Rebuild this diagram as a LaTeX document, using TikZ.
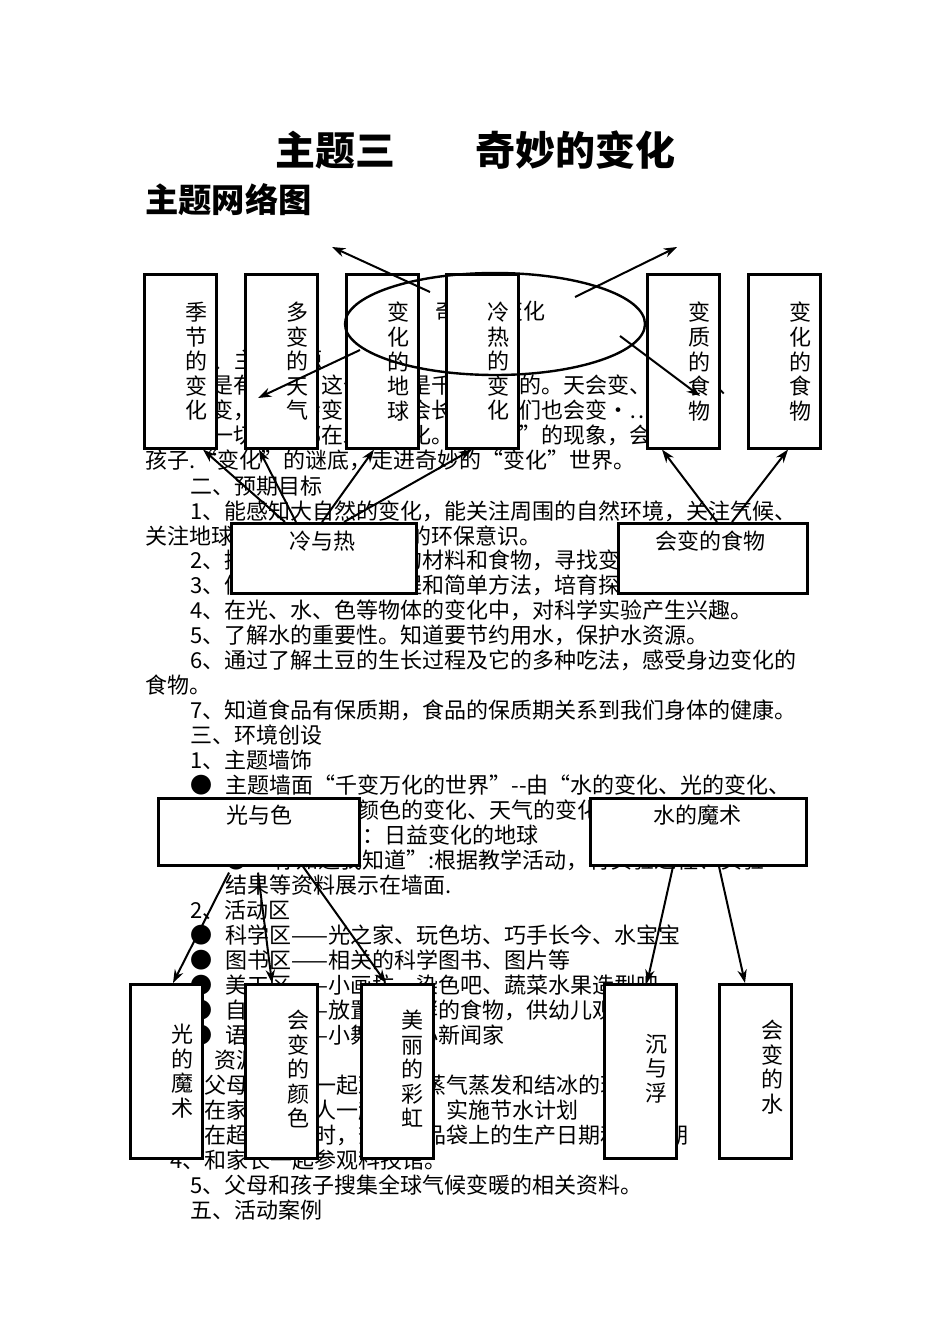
\documentclass[tikz,border=0pt]{standalone}
\usepackage{fontspec}
\setmainfont{Noto Sans CJK SC}
\usetikzlibrary{shapes.geometric,arrows.meta,calc}
\newcommand\fsz{\fontsize{16.5}{18.4}\selectfont}
\begin{document}
\begin{tikzpicture}[x=0.75pt,y=-0.75pt,
  box/.style={draw,line width=1.9pt,fill=white,inner sep=0,anchor=north west},
  vt/.style={align=center,font=\fsz,inner sep=0,anchor=north},
  bg/.style={anchor=west,inner sep=0,font=\fsz},
  lb/.style={inner sep=0,font=\fsz},
  arr/.style={line width=1.5pt,-{Stealth[length=10pt,width=7pt]}}]
\useasboundingbox (0,0) rectangle (950,1344);
\fill[white] (0,0) rectangle (950,1344);
% titles
\node[inner sep=0,font=\fontsize{30}{32}\selectfont\bfseries] (t1) at (475,150) {主题三\hspace{2em}奇妙的变化};
\node[inner sep=0,anchor=west,font=\fontsize{25}{27}\selectfont\bfseries] (t2) at (145,200) {主题网络图};
% background text
\node[bg] (l1) at (190,360) {一、主题来源};
\node[bg] (l2) at (145,385) {自然界是有活力，这个世界是千奇百变的。天会变、地会变、};
\node[bg] (l3) at (145,410) {天气会变，时间会变，孩子会长大，我们也会变·……·};
\node[bg] (l4) at (145,435) {身边的一切事物都在发生变化。“变化”的现象，会吸引};
\node[bg] (l5) at (145,460) {孩子.“变化”的谜底，走进奇妙的“变化”世界。};
\node[bg] (l6) at (190,486) {二、预期目标};
\node[bg] (l7) at (190,511) {1、能感知大自然的变化，能关注周围的自然环境，关注气候、};
\node[bg] (l8) at (145,536) {关注地球的变化，萌发初步的环保意识。};
\node[bg] (l9) at (190,560) {2、提供各种可以变化的材料和食物，寻找变化的秘密。};
\node[bg] (l10) at (190,585) {3、体验科学探究的过程和简单方法，培育探究学习意识。};
\node[bg] (l11) at (190,610) {4、在光、水、色等物体的变化中，对科学实验产生兴趣。};
\node[bg] (l12) at (190,635) {5、了解水的重要性。知道要节约用水，保护水资源。};
\node[bg] (l13) at (190,660) {6、通过了解土豆的生长过程及它的多种吃法，感受身边变化的};
\node[bg] (l14) at (145,685) {食物。};
\node[bg] (l15) at (190,710) {7、知道食品有保质期，食品的保质期关系到我们身体的健康。};
\node[bg] (l16) at (190,735) {三、环境创设};
\node[bg] (l17) at (190,760) {1、主题墙饰};
\node[bg] (l18) at (190,785) {●\hspace{0.6em}主题墙面“千变万化的世界”{-}{-}由“水的变化、光的变化、};
\node[bg] (l19) at (225,810) {物体的变化、颜色的变化、天气的变化”组成。};
\node[bg] (l20) at (225,835) {●\ 小小调查员：日益变化的地球};
\node[bg] (l21) at (225,860) {●\ “你知道我知道”:根据教学活动，将实验过程、实验};
\node[bg] (l22) at (225,885) {结果等资料展示在墙面.};
\node[bg] (l23) at (190,910) {2、活动区};
\node[bg] (l24) at (190,935) {●\hspace{0.6em}科学区——光之家、玩色坊、巧手长今、水宝宝};
\node[bg] (l25) at (190,960) {●\hspace{0.6em}图书区——相关的科学图书、图片等};
\node[bg] (l26) at (190,985) {●\hspace{0.6em}美工区——小画坊、染色吧、蔬菜水果造型吧};
\node[bg] (l27) at (190,1010) {●\hspace{0.6em}自然角——放置会发酵的食物，供幼儿观察};
\node[bg] (l28) at (190,1035) {●\hspace{0.6em}语言区——小舞台、小新闻家};
\node[bg] (l29) at (170,1060) {四、资源利用};
\node[bg] (l30) at (170,1085) {1、父母和幼儿一起观察水蒸气蒸发和结冰的现象.};
\node[bg] (l31) at (170,1110) {2、在家中和家人一起制订、实施节水计划};
\node[bg] (l32) at (170,1135) {3、在超市购物时，查看食品袋上的生产日期和保质期};
\node[bg] (l33) at (170,1160) {4、和家长一起参观科技馆。};
\node[bg] (l34) at (190,1185) {5、父母和孩子搜集全球气候变暖的相关资料。};
\node[bg] (l35) at (190,1210) {五、活动案例};
% ellipse text
\node[lb] (et) at (490,311) {奇妙的变化};
% top boxes
\foreach \n/\x in {b1/143,b2/244,b3/345,b4/445,b5/646,b6/747}
  \node[box,minimum width=54pt,minimum height=130.5pt] (\n) at (\x,273) {};
\node[vt] (v1) at (196,302) {季\\节\\的\\变\\化};
\node[vt] (v2) at (297,302) {多\\变\\的\\天\\气};
\node[vt] (v3) at (398,302) {变\\化\\的\\地\\球};
\node[vt] (v4) at (498,302) {冷\\热\\的\\变\\化};
\node[vt] (v5) at (699,302) {变\\质\\的\\食\\物};
\node[vt] (v6) at (800,302) {变\\化\\的\\食\\物};
% ellipse
\node[draw,ellipse,line width=1.8pt,minimum width=225pt,minimum height=76.5pt,inner sep=0] (el) at (495,324) {};
\coordinate (e1) at (332,247);
\coordinate (e2) at (677,247);
\coordinate (e3) at (258,398);
\coordinate (e4) at (700,396);
\draw[arr] ($(el.center)+(-65,-32)$) -- (e1);
\draw[arr] ($(el.center)+(80,-27)$) -- (e2);
\draw[arr] ($(el.center)+(-135,26)$) -- (e3);
\draw[arr] ($(el.center)+(125,12)$) -- (e4);
% middle boxes
\node[box,minimum width=138.75pt,minimum height=52.5pt] (lr) at (230,522) {};
\node[lb] at (322,541) {冷与热};
\node[box,minimum width=141.75pt,minimum height=52.5pt] (hf) at (617,522) {};
\node[lb] at (710,541) {会变的食物};
\node[box,minimum width=150.75pt,minimum height=50.25pt] (gs) at (157,797) {};
\node[lb] at (259,815) {光与色};
\node[box,minimum width=162pt,minimum height=50.25pt] (sm) at (589,797) {};
\node[lb] at (697,815) {水的魔术};
% arrows from middle to top boxes
\draw[arr] ($(lr.north west)+(55,0)$) -- ($(b1.south west)+(60,0)$);
\draw[arr] ($(lr.north west)+(66,0)$) -- ($(b2.south west)+(15,0)$);
\draw[arr] ($(lr.north west)+(92,0)$) -- ($(b3.south west)+(29,0)$);
\draw[arr] ($(lr.north west)+(114,0)$) -- ($(b4.south west)+(27,0)$);
\draw[arr] ($(hf.north west)+(100,0)$) -- ($(b5.south west)+(16,0)$);
\draw[arr] ($(hf.north west)+(115,0)$) -- ($(b6.south west)+(41,0)$);
% bottom boxes
\foreach \n/\x in {c1/129,c2/244,c3/360,c4/603,c5/718}
  \node[box,minimum width=54pt,minimum height=130.5pt] (\n) at (\x,983) {};
\node[vt] (w1) at (182,1024) {光\\的\\魔\\术};
\node[vt] (w2) at (298,1010) {会\\变\\的\\颜\\色};
\node[vt] (w3) at (412,1010) {美\\丽\\的\\彩\\虹};
\node[vt] (w4) at (656,1034) {沉\\与\\浮};
\node[vt] (w5) at (772,1020) {会\\变\\的\\水};
% arrows from middle to bottom boxes
\draw[arr] ($(gs.south west)+(72,6)$) -- ($(c1.north west)+(44,0)$);
\draw[arr] ($(gs.south west)+(101,6)$) -- ($(c2.north west)+(28,0)$);
\draw[arr] ($(gs.south west)+(146,0)$) -- ($(c3.north west)+(26,0)$);
\draw[arr] ($(sm.south west)+(84,0)$) -- ($(c4.north west)+(44,0)$);
\draw[arr] ($(sm.south west)+(130,0)$) -- ($(c5.north west)+(27,0)$);
\end{tikzpicture}
\end{document}
